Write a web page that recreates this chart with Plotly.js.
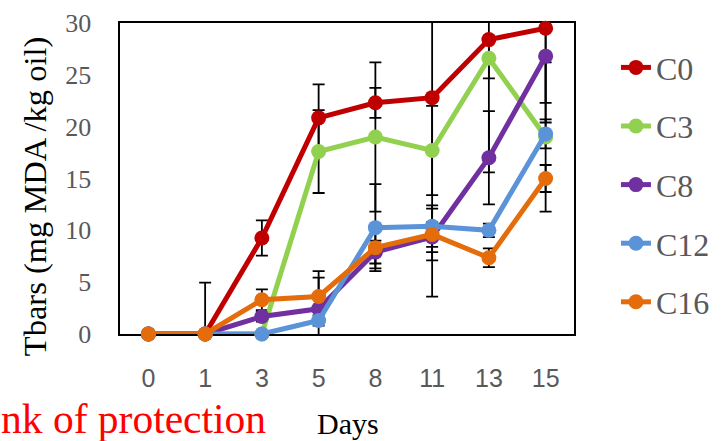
<!DOCTYPE html>
<html>
<head>
<meta charset="utf-8">
<script src="https://cdn.plot.ly/plotly-3.0.1.min.js"></script>
<style>html,body{margin:0;padding:0;background:#fff;}#chart{width:726px;height:441px;}</style>
</head>
<body>
<div id="chart"></div>
<script>
const days = ['0', '1', '3', '5', '8', '11', '13', '15'];
const seriesNames = ['C0', 'C3', 'C8', 'C12', 'C16'];
const C0 = [0, 0, 9.26, 20.85, 22.3, 22.8, 28.4, 29.5];
const C3 = [0, 0, 0, 17.6, 19.0, 17.7, 26.6, 19.0];
const C8 = [0, 0, 1.69, 2.43, 7.9, 9.35, 17.0, 26.8];
const C12 = [0, 0, 0, 1.3, 10.26, 10.4, 10.0, 19.3];
const C16 = [0, 0, 3.3, 3.62, 8.33, 9.6, 7.36, 15.0];
const errC0 = [0, 4.95, 1.7, 3.23, 1.45, 19.2, 12.8, 7.2];
const errC3 = [0, 0, 0, 4.0, 7.2, 4.3, 1.95, 7.2];
const errC8 = [0, 0, 0.5, 3.0, 1.1, 1.45, 4.5, 6.4];
const errC12 = [0, 0, 0, 0.5, 4.2, 2.0, 0.65, 1.4];
const errC16 = [0, 0, 1.0, 2.45, 2.0, 2.5, 0.9, 1.3];
const colors = ['#C00000', '#92D050', '#7030A0', '#5B93D8', '#E46C0A'];

const values = [C0, C3, C8, C12, C16];
const errors = [errC0, errC3, errC8, errC12, errC16];

const traces = [];
// error bars (clipped to plot area), drawn beneath lines
values.forEach((v, i) => {
  traces.push({
    x: days, y: v, type: 'scatter', mode: 'markers',
    marker: {size: 1, opacity: 0},
    error_y: {type: 'data', array: errors[i], visible: true, color: '#000000', thickness: 1.8, width: 6},
    showlegend: false, hoverinfo: 'skip', cliponaxis: true
  });
});
values.forEach((v, i) => {
  traces.push({
    x: days, y: v, type: 'scatter', mode: 'lines+markers', name: seriesNames[i],
    legendgroup: seriesNames[i],
    line: {color: colors[i], width: 5},
    marker: {color: colors[i], size: 15},
    cliponaxis: false
  });
});

const layout = {
  width: 726, height: 441,
  margin: {l: 120, r: 151, t: 23, b: 107},
  paper_bgcolor: '#ffffff', plot_bgcolor: '#ffffff',
  showlegend: true,
  legend: {
    x: 1.09, y: 0.945, xanchor: 'left', yanchor: 'top',
    font: {family: 'Liberation Serif', size: 32, color: '#595959'},
    tracegroupgap: 14, bgcolor: 'rgba(0,0,0,0)'
  },
  xaxis: {
    type: 'category', range: [-0.5, 7.5], showgrid: false, zeroline: false,
    showline: true, mirror: true, linecolor: '#000000', linewidth: 1.6, layer: 'below traces',
    ticks: 'outside', ticklen: 21, tickcolor: 'rgba(0,0,0,0)',
    tickfont: {family: 'Liberation Sans', size: 25, color: '#595959'}
  },
  yaxis: {
    range: [0, 30], dtick: 5, showgrid: false, zeroline: false,
    showline: true, mirror: true, linecolor: '#000000', linewidth: 1.6, layer: 'below traces',
    ticks: 'outside', ticklen: 22, tickcolor: 'rgba(0,0,0,0)',
    tickfont: {family: 'Liberation Serif', size: 26, color: '#595959'}
  },
  annotations: [
    {text: 'Tbars (mg MDA /kg oil)', xref: 'paper', yref: 'paper', x: (35 - 120) / 455, y: (334 - 196) / 311,
     xanchor: 'center', yanchor: 'middle', textangle: -90, showarrow: false,
     font: {family: 'Liberation Serif', size: 32.5, color: '#000000'}},
    {text: 'Days', xref: 'paper', yref: 'paper', x: (349 - 120) / 455, y: (334 - 423) / 311,
     xanchor: 'center', yanchor: 'middle', showarrow: false,
     font: {family: 'Liberation Serif', size: 30, color: '#000000'}},
    {text: 'nk of protection', xref: 'paper', yref: 'paper', x: (-1 - 120) / 455, y: (334 - 419) / 311,
     xanchor: 'left', yanchor: 'middle', showarrow: false,
     font: {family: 'Liberation Serif', size: 41.5, color: '#FF0000'}}
  ]
};

Plotly.newPlot('chart', traces, layout, {staticPlot: true, displayModeBar: false});
</script>
</body>
</html>
